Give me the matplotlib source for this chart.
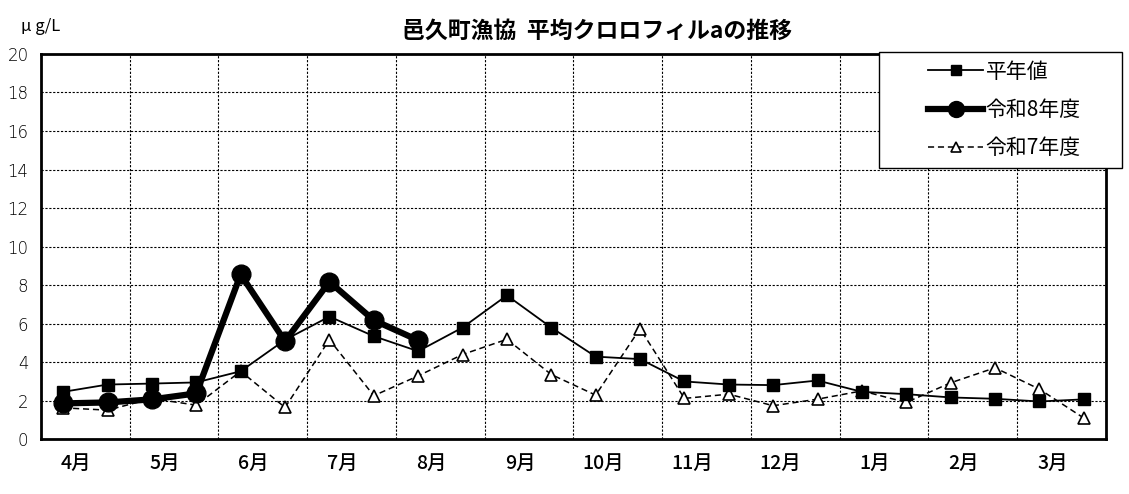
import matplotlib.pyplot as plt
import matplotlib.patches as patches

plt.rcParams['font.family'] = ['Noto Sans CJK JP', 'DejaVu Sans']

# Data (two readings per month, April to March)
months = ['4月', '5月', '6月', '7月', '8月', '9月', '10月', '11月', '12月', '1月', '2月', '3月']
normal = [2.45, 2.83, 2.88, 2.94, 3.52, 5.15, 6.36, 5.34, 4.56, 5.79, 7.46, 5.79,
          4.28, 4.15, 2.99, 2.83, 2.80, 3.04, 2.45, 2.33, 2.16, 2.09, 1.95, 2.06]
r8 = [1.85, 1.90, 2.06, 2.37, 8.55, 5.08, 8.17, 6.17, 5.13]
r7 = [1.62, 1.50, 2.10, 1.76, 3.52, 1.64, 5.16, 2.25, 3.28, 4.39, 5.18, 3.35,
      2.28, 5.73, 2.11, 2.33, 1.73, 2.07, 2.50, 1.90, 2.92, 3.70, 2.59, 1.09]

x_all = [i * 0.5 + 0.25 for i in range(len(normal))]

fig = plt.figure(figsize=(11.29, 4.94), dpi=100)
ax = fig.add_axes([0.0363, 0.1113, 0.9433, 0.7794])

l1, = ax.plot(x_all, normal, color='black', lw=1.3, marker='s', ms=8,
              mfc='black', mec='black', zorder=3, label='平年値')
l2, = ax.plot(x_all[:len(r8)], r8, color='black', lw=4.5, marker='o', ms=13.5,
              zorder=4, label='令和8年度')
l3, = ax.plot(x_all, r7, color='black', lw=1.1, ls=(0, (4, 2.5)), marker='^',
              ms=9, mfc='white', mec='black', mew=1.2, zorder=2, label='令和7年度')

ax.set_xlim(0, 12)
ax.set_ylim(0, 20)
ax.set_yticks(range(0, 21, 2))
ax.set_xticks(range(0, 13))
ax.set_xticklabels([])
ax.set_xticks([i + 0.57 for i in range(12)], minor=True)
ax.set_xticklabels(months, minor=True, fontsize=14, ha='right', fontweight='medium')
ax.tick_params(axis='x', which='both', length=0, pad=11)
ax.tick_params(axis='y', length=0, pad=9, labelsize=12)
for lab in ax.get_yticklabels():
    lab.set_family('DejaVu Sans')
    lab.set_fontweight('light')
ax.grid(True, which='major', color='black', ls=(0, (2, 1.5)), lw=0.8)
for s in ax.spines.values():
    s.set_linewidth(2)

fig.text(0.529, 0.937, '邑久町漁協  平均クロロフィルaの推移', ha='center', va='center',
         fontsize=16.5, fontweight='bold')
fig.text(0.019, 0.947, 'μ g/L', ha='left', va='center', fontsize=12)

# legend frame drawn separately for the wide side padding
fig.patches.append(patches.Rectangle((879 / 1129, 1 - 168 / 494), 243 / 1129, 116 / 494,
                                     transform=fig.transFigure, facecolor='white',
                                     edgecolor='black', lw=1, zorder=4))
leg = fig.legend(handles=[l1, l2, l3], loc='center left',
                 bbox_to_anchor=(918 / 1129, 1 - 110 / 494), frameon=False,
                 fontsize=15, handlelength=2.6, handletextpad=0.15,
                 labelspacing=0.78, borderpad=0, markerscale=0.85)
leg.set_zorder(5)

fig.savefig('out.png', dpi=100)
